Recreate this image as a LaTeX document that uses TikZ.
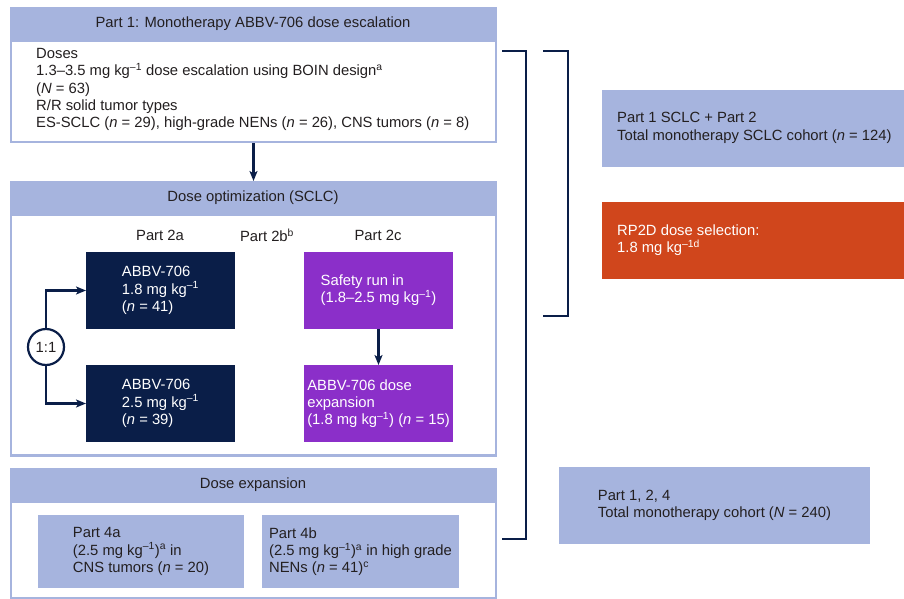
\documentclass[tikz,border=0pt]{standalone}
\usepackage{fontspec}
\setmainfont{Liberation Sans}
\usetikzlibrary{arrows.meta}

\definecolor{paleblue}{RGB}{166,180,222}
\definecolor{navyblue}{RGB}{10,30,72}
\definecolor{armpurple}{RGB}{139,47,201}
\definecolor{rpdorange}{RGB}{208,70,28}
\definecolor{textdark}{RGB}{35,31,32}

\newcommand{\perkg}{kg\textsuperscript{–1}}

\begin{document}
\begin{tikzpicture}[x=1pt, y=-1pt, font=\fontsize{14.8}{17.3}\selectfont, text=textdark,
		panel/.style={fill=paleblue, inner sep=0, outer sep=0, anchor=north west},
		body/.style={fill=white, inner sep=0, outer sep=0, anchor=north west},
		armbox/.style={fill=navyblue, text=white, align=left, inner sep=0, outer sep=0, anchor=north west, minimum width=149, minimum height=77},
		runbox/.style={armbox, fill=armpurple},
		txt/.style={align=left, inner sep=0, anchor=west},
		link/.style={draw=navyblue, line width=2.2pt, -{Stealth[length=10pt, width=8pt, inset=2.5pt]}},
		bracket/.style={draw=navyblue, line width=2.4pt}]
		\useasboundingbox (0,0) rectangle (904,599);

		% part 1
		\node[panel, minimum width=487, minimum height=136] (part1) at (10,7) {};
		\node[body, minimum width=483, minimum height=99] (part1body) at (12,42) {};
		\node (part1title) at (253,24) {Part 1: Monotherapy ABBV-706 dose escalation};
		\node[txt] (part1text) at (36,89.5)
		{Doses\\
			1.3–3.5 mg \perkg{} dose escalation using BOIN design\textsuperscript{a}\\
			(\textit{N} = 63)\\
			R/R solid tumor types\\
			ES-SCLC (\textit{n} = 29), high-grade NENs (\textit{n} = 26), CNS tumors (\textit{n} = 8)};

		% part 2
		\node[panel, minimum width=487, minimum height=276] (part2) at (10,181) {};
		\node[body, minimum width=483, minimum height=238] (part2body) at (12,216) {};
		\node (part2title) at (253,198) {Dose optimization (SCLC)};
		\node (part2a) at (160,235) {Part 2a};
		\node (part2b) at (267,235) {Part 2b\textsuperscript{b}};
		\node (part2c) at (378,235) {Part 2c};
		\node[armbox] (dose18) at (86,252) {ABBV-706\\1.8 mg \perkg\\(\textit{n} = 41)};
		\node[armbox] (dose25) at (86,365) {ABBV-706\\2.5 mg \perkg\\(\textit{n} = 39)};
		\node[runbox] (safety) at (304,252) {Safety run in\\(1.8–2.5 mg \perkg)};
		\node[runbox] (expand) at (304,365) {ABBV-706 dose\\expansion\\(1.8 mg \perkg) (\textit{n} = 15)};
		\node[circle, draw=navyblue, line width=2.2pt, fill=white, inner sep=0, minimum size=36] (ratio) at (46,347) {1:1};
		\draw[link] (ratio.north) |- (dose18.west);
		\draw[link] (ratio.south) |- (dose25.west);
		\draw[link] (safety) -- (expand);

		% part 4
		\node[panel, minimum width=487, minimum height=131] (part4) at (10,468) {};
		\node[body, minimum width=483, minimum height=94] (part4body) at (12,503) {};
		\node (part4title) at (253,485) {Dose expansion};
		\node[panel, align=left, minimum width=206, minimum height=73] (part4a) at (38,515)
		{Part 4a\\(2.5 mg \perkg)\textsuperscript{a} in\\CNS tumors (\textit{n} = 20)};
		\node[panel, align=left, minimum width=197, minimum height=73] (part4b) at (262,515)
		{Part 4b\\(2.5 mg \perkg)\textsuperscript{a} in high grade\\NENs (\textit{n} = 41)\textsuperscript{c}};

		\draw[link] (part1.south) -- (part2.north);

		% cohorts
		\draw[bracket] (502,51) -| (526,539) -- (502,539);
		\draw[bracket] (543,51) -| (568,316) -- (543,316);
		\node[panel, minimum width=302, minimum height=77] (sclc) at (602,90) {};
		\node[txt] (sclctext) at (617,128) {Part 1 SCLC + Part 2\\Total monotherapy SCLC cohort (\textit{n} = 124)};
		\node[panel, fill=rpdorange, minimum width=302, minimum height=77] (rp2d) at (602,202) {};
		\node[txt, text=white] (rp2dtext) at (617,240) {RP2D dose selection:\\1.8 mg kg\textsuperscript{–1d}};
		\node[panel, align=left, minimum width=311, minimum height=77] (total) at (559,467)
		{Part 1, 2, 4\\Total monotherapy cohort (\textit{N} = 240)};
	\end{tikzpicture}
\end{document}
